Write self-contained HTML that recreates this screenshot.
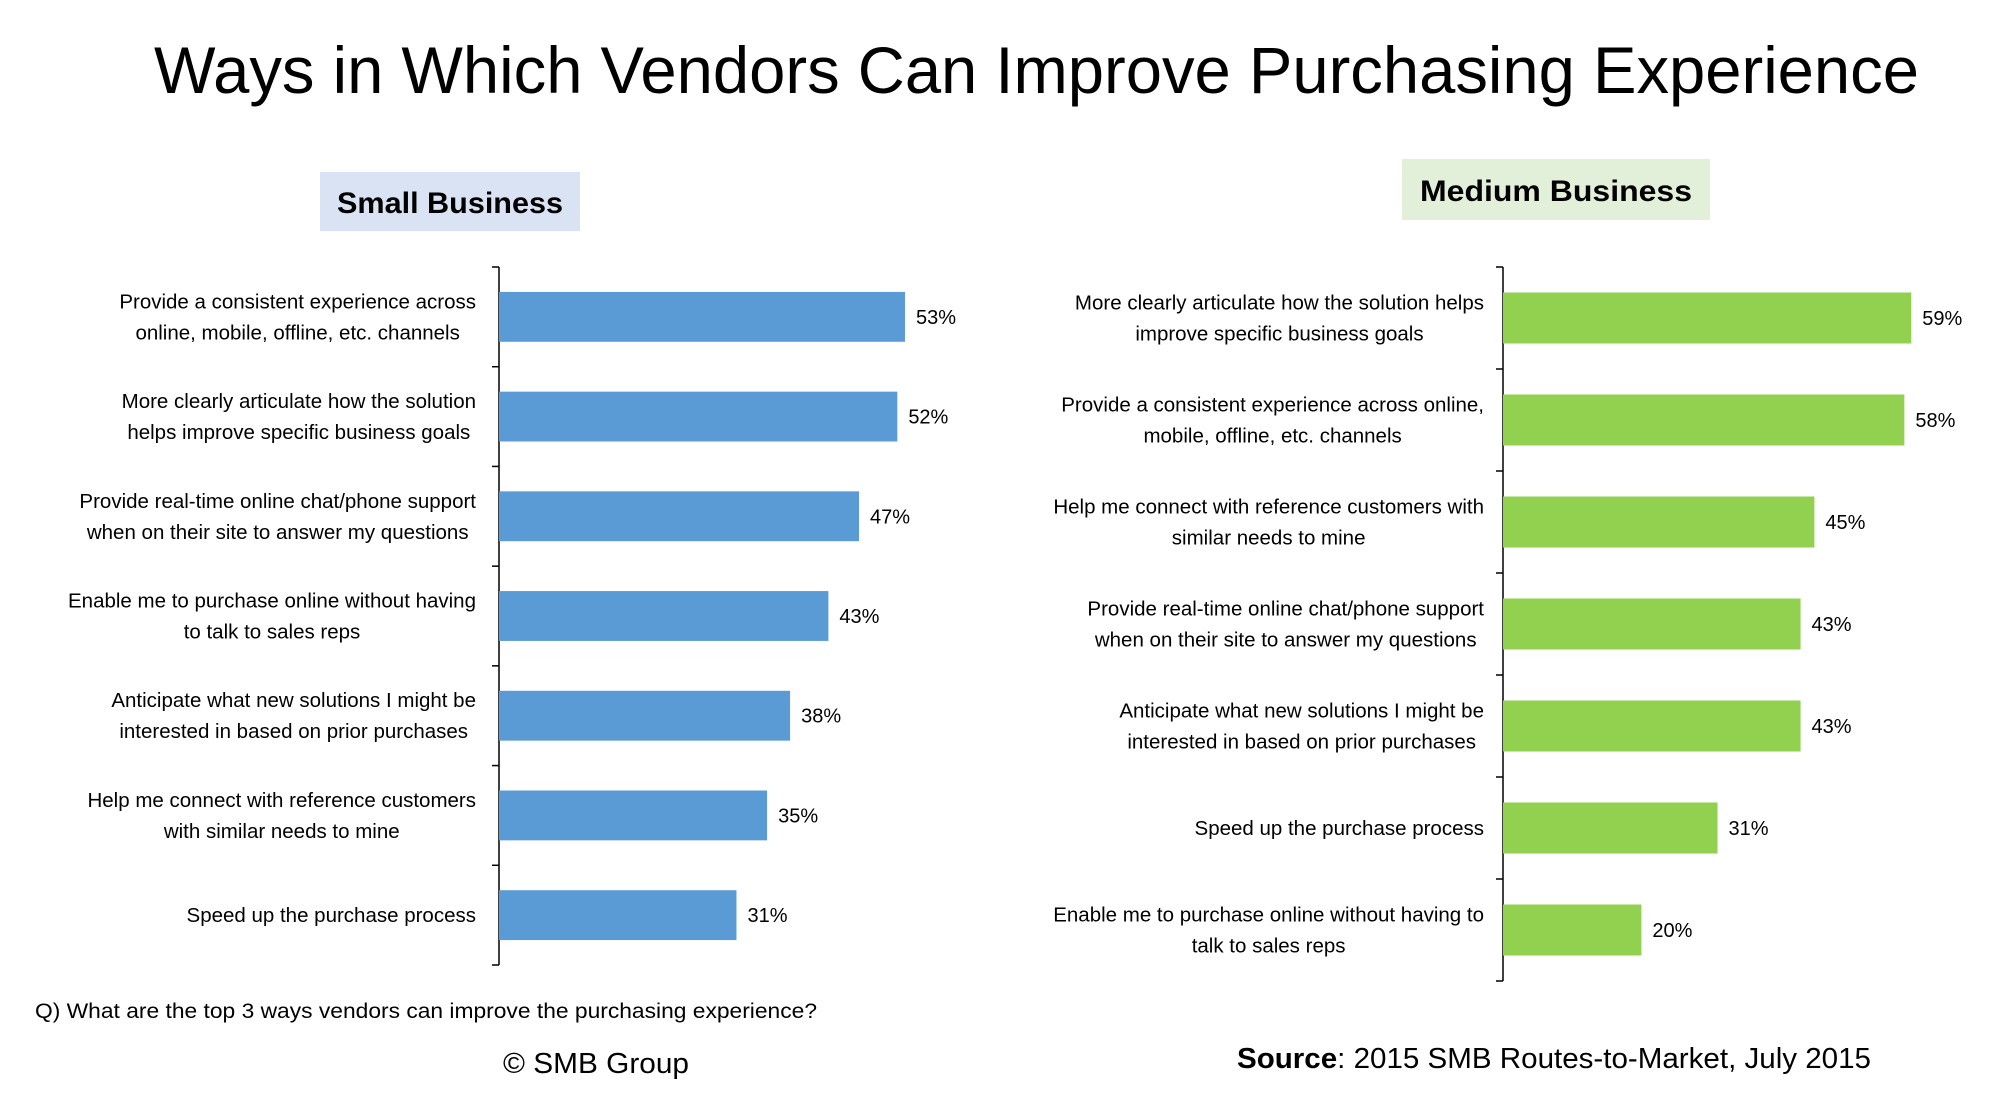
<!DOCTYPE html>
<html><head><meta charset="utf-8"><style>
html,body{margin:0;padding:0;background:#fff;}
svg{display:block;font-family:"Liberation Sans",sans-serif;}
</style></head><body>
<svg id="c" width="2006" height="1098" viewBox="0 0 2006 1098" xmlns="http://www.w3.org/2000/svg">
<text x="154" y="93" font-size="66" fill="#000" textLength="1765" lengthAdjust="spacingAndGlyphs">Ways in Which Vendors Can Improve Purchasing Experience</text>
<rect x="320" y="172" width="260" height="59" fill="#dae3f3"/>
<text x="450" y="213" font-size="30" font-weight="bold" text-anchor="middle" textLength="226" lengthAdjust="spacingAndGlyphs">Small Business</text>
<rect x="1402" y="159" width="308" height="61" fill="#e2f0d9"/>
<text x="1556" y="201" font-size="30" font-weight="bold" text-anchor="middle" textLength="272" lengthAdjust="spacingAndGlyphs">Medium Business</text>
<g id="left"></g>
<g id="right"></g>
<text x="35" y="1018" font-size="21" textLength="782" lengthAdjust="spacingAndGlyphs">Q) What are the top 3 ways vendors can improve the purchasing experience?</text>
<text x="503" y="1073" font-size="29" textLength="186" lengthAdjust="spacingAndGlyphs">© SMB Group</text>
<text x="1237" y="1068" font-size="29" textLength="634" lengthAdjust="spacingAndGlyphs"><tspan font-weight="bold">Source</tspan>: 2015 SMB Routes-to-Market, July 2015</text>
</svg>
<script>
const smallCategories = [
 ["Provide a consistent experience across","online, mobile, offline, etc. channels"],
 ["More clearly articulate how the solution","helps improve specific business goals"],
 ["Provide real-time online chat/phone support","when on their site to answer my questions"],
 ["Enable me to purchase online without having","to talk to sales reps"],
 ["Anticipate what new solutions I might be","interested in based on prior purchases"],
 ["Help me connect with reference customers","with similar needs to mine"],
 ["Speed up the purchase process"]
];
const smallValues = [53, 52, 47, 43, 38, 35, 31];
const mediumCategories = [
 ["More clearly articulate how the solution helps","improve specific business goals"],
 ["Provide a consistent experience across online,","mobile, offline, etc. channels"],
 ["Help me connect with reference customers with","similar needs to mine"],
 ["Provide real-time online chat/phone support","when on their site to answer my questions"],
 ["Anticipate what new solutions I might be","interested in based on prior purchases"],
 ["Speed up the purchase process"],
 ["Enable me to purchase online without having to","talk to sales reps"]
];
const mediumValues = [59, 58, 45, 43, 43, 31, 20];

const NS = "http://www.w3.org/2000/svg";
function mk(tag, attrs, parent){const e=document.createElementNS(NS,tag);for(const k in attrs)e.setAttribute(k,attrs[k]);parent.appendChild(e);return e;}

function drawChart(g, cats, vals, cfg){
  const n = cats.length;
  const band = (cfg.y1 - cfg.y0)/n;
  const xScale = v => cfg.ax + v*cfg.pxPer;
  const yBand = i => cfg.y0 + i*band;
  const axis = mk('line',{x1:cfg.ax,y1:cfg.y0,x2:cfg.ax,y2:cfg.y1,stroke:'#000','stroke-width':1.5},g);
  
  
  for(let i=0;i<=n;i++){
    const t = mk('line',{x1:cfg.ax-7,y1:yBand(i),x2:cfg.ax,y2:yBand(i),stroke:'#000','stroke-width':1.5},g);
    
    
  }
  vals.forEach((v,i)=>{
    const cy = yBand(i)+band/2;
    const bh = band*0.5;
    const r = mk('rect',{x:cfg.ax,y:cy-bh/2,width:xScale(v)-cfg.ax,height:bh,fill:cfg.color},g);
    
    
    const lbl = mk('text',{x:xScale(v)+11,y:cy+7,'font-size':20},g);
    lbl.textContent = v+'%';
    
    
    const lines = cats[i];
    const lh = 31;
    const startY = cy + 7 - (lines.length-1)*lh/2;
    const tx = mk('text',{'font-size':20.5,'text-anchor':'middle'},g);
    
    
    lines.forEach((ln,j)=>{
      const ts = mk('tspan',{x:cfg.labelCenter(lines,j),y:startY+j*lh},tx);
      ts.textContent = ln;
    });
  });
  // right-align block but center lines relative to the longest line
  Array.from(g.querySelectorAll('text[text-anchor="middle"]')).forEach(t=>{
    const spans = t.querySelectorAll('tspan');
    let maxW = 0; spans.forEach(s=>{maxW=Math.max(maxW,s.getComputedTextLength());});
    spans.forEach(s=>{s.setAttribute('x', cfg.labelRight - maxW/2);});
  });
}
drawChart(document.getElementById('left'), smallCategories, smallValues,
  {ax:499,y0:267,y1:965,pxPer:7.66,color:'#5b9bd5',prefix:'small',labelRight:476,labelCenter:()=>300});
drawChart(document.getElementById('right'), mediumCategories, mediumValues,
  {ax:1503,y0:267,y1:981,pxPer:6.92,color:'#92d050',prefix:'medium',labelRight:1484,labelCenter:()=>1250});
</script>
</body></html>
